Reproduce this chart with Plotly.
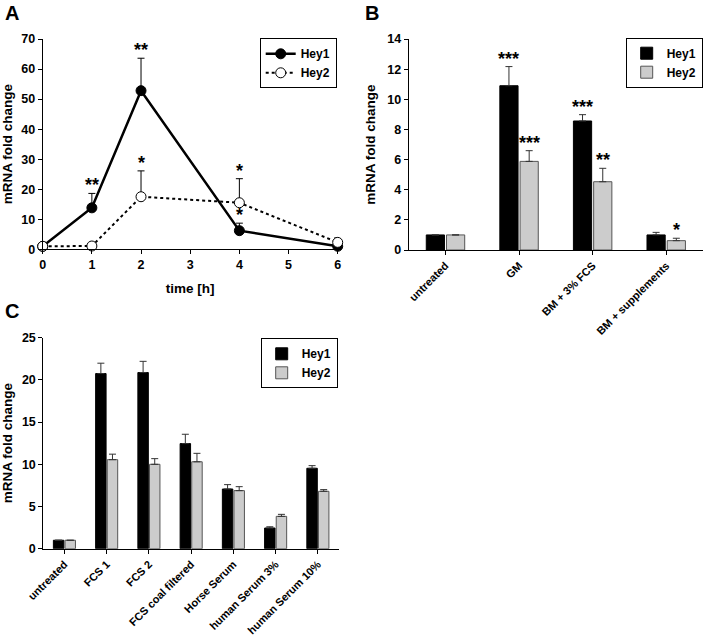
import plotly.graph_objects as go

# ---------- Data ----------
# Panel A
time_h = [0, 1, 2, 4, 6]
hey1_A = [1.0, 13.8, 52.8, 6.2, 1.0]
hey1_A_err = [0.0, 4.8, 10.8, 2.5, 0.3]
hey2_A = [1.0, 1.1, 17.5, 15.5, 2.3]
hey2_A_err = [0.0, 0.2, 8.6, 8.0, 1.5]
stars_A_hey1 = ["", "**", "**", "*", ""]
stars_A_hey2 = ["", "", "*", "*", ""]

# Panel B
cats_B = ["untreated", "GM", "BM + 3% FCS", "BM + supplements"]
hey1_B = [1.0, 10.9, 8.56, 1.0]
hey1_B_err = [0.0, 1.27, 0.42, 0.17]
hey2_B = [1.0, 5.88, 4.53, 0.62]
hey2_B_err = [0.0, 0.71, 0.89, 0.16]
stars_B_hey1 = ["", "***", "***", ""]
stars_B_hey2 = ["", "***", "**", "*"]

# Panel C
cats_C = ["untreated", "FCS 1", "FCS 2", "FCS coal filtered", "Horse Serum",
          "human Serum 3%", "human Serum 10%"]
hey1_C = [1.0, 20.75, 20.87, 12.45, 7.07, 2.45, 9.53]
hey1_C_err = [0.0, 1.23, 1.33, 1.11, 0.52, 0.15, 0.31]
hey2_C = [1.0, 10.55, 10.0, 10.3, 6.88, 3.83, 6.8]
hey2_C_err = [0.0, 0.65, 0.67, 1.0, 0.47, 0.24, 0.2]

# ---------- Style ----------
FONT = "Liberation Sans, Arial, sans-serif"
BLACK = "#000000"
GRAY = "#cccccc"
GRAY_LINE = "#555555"
W, H = 709, 635
BARGAP = 0.45
GROUPGAP = 0.1

fig = go.Figure()

# Panel A traces
fig.add_trace(go.Scatter(
    x=time_h, y=hey1_A, name="Hey1", mode="lines+markers",
    line=dict(color=BLACK, width=2.5),
    marker=dict(symbol="circle", size=10, color=BLACK, line=dict(color=BLACK, width=1)),
    error_y=dict(type="data", array=hey1_A_err, arrayminus=[0] * 5, symmetric=False,
                 color=BLACK, thickness=1, width=3.5),
    xaxis="x", yaxis="y", legend="legend", cliponaxis=False))
fig.add_trace(go.Scatter(
    x=time_h, y=hey2_A, name="Hey2", mode="lines+markers",
    line=dict(color=BLACK, width=2, dash="dot"),
    marker=dict(symbol="circle", size=10, color="white", line=dict(color=BLACK, width=1)),
    error_y=dict(type="data", array=hey2_A_err, arrayminus=[0] * 5, symmetric=False,
                 color=BLACK, thickness=1, width=3.5),
    xaxis="x", yaxis="y", legend="legend", cliponaxis=False))

# Panel B traces
fig.add_trace(go.Bar(
    x=cats_B, y=hey1_B, name="Hey1", marker=dict(color=BLACK, line=dict(color=BLACK, width=1)),
    error_y=dict(type="data", array=hey1_B_err, arrayminus=[0] * 4, symmetric=False,
                 color="#333333", thickness=1, width=3.5),
    xaxis="x2", yaxis="y2", legend="legend2"))
fig.add_trace(go.Bar(
    x=cats_B, y=hey2_B, name="Hey2", marker=dict(color=GRAY, line=dict(color=GRAY_LINE, width=1)),
    error_y=dict(type="data", array=hey2_B_err, arrayminus=[0] * 4, symmetric=False,
                 color="#333333", thickness=1, width=3.5),
    xaxis="x2", yaxis="y2", legend="legend2"))

# Panel C traces
fig.add_trace(go.Bar(
    x=cats_C, y=hey1_C, name="Hey1", marker=dict(color=BLACK, line=dict(color=BLACK, width=1)),
    error_y=dict(type="data", array=hey1_C_err, arrayminus=[0] * 7, symmetric=False,
                 color="#333333", thickness=1, width=3.5),
    xaxis="x3", yaxis="y3", legend="legend3"))
fig.add_trace(go.Bar(
    x=cats_C, y=hey2_C, name="Hey2", marker=dict(color=GRAY, line=dict(color=GRAY_LINE, width=1)),
    error_y=dict(type="data", array=hey2_C_err, arrayminus=[0] * 7, symmetric=False,
                 color="#333333", thickness=1, width=3.5),
    xaxis="x3", yaxis="y3", legend="legend3"))

tickfont = dict(family=FONT, size=12.5, color=BLACK, weight="bold")
cattickfont = dict(family=FONT, size=11, color=BLACK, weight="bold")
titlefont = dict(family=FONT, size=13.5, color=BLACK, weight="bold")

def axis_common(**kw):
    d = dict(showline=True, linecolor=BLACK, linewidth=1, mirror=False,
             ticks="outside", ticklen=4, tickwidth=1, tickcolor=BLACK,
             showgrid=False, zeroline=False, tickfont=tickfont, automargin=False)
    d.update(kw)
    return d

def px2fx(px):
    return px / W

def py2fy(py):
    return 1 - py / H

annotations = []

# star annotations
def star(xref, yref, x, y, text):
    if text:
        annotations.append(dict(x=x, y=y, xref=xref, yref=yref, text=text, showarrow=False,
                                yanchor="bottom", yshift=-4,
                                font=dict(family=FONT, size=18, color=BLACK, weight="bold")))

for t, v, e, s in zip(time_h, hey1_A, hey1_A_err, stars_A_hey1):
    star("x", "y", t, v + e, s)
for t, v, e, s in zip(time_h, hey2_A, hey2_A_err, stars_A_hey2):
    star("x", "y", t, v + e, s)

slot = (1 - BARGAP) / 2
for i, (v, e, s) in enumerate(zip(hey1_B, hey1_B_err, stars_B_hey1)):
    star("x2", "y2", i - slot / 2, v + e, s)
for i, (v, e, s) in enumerate(zip(hey2_B, hey2_B_err, stars_B_hey2)):
    star("x2", "y2", i + slot / 2, v + e, s)

# panel letters
for letter, lx, ly in [("A", 3, 0), ("B", 363, 0), ("C", 3, 298)]:
    annotations.append(dict(x=px2fx(lx), y=py2fy(ly), xref="paper", yref="paper",
                            text=letter, showarrow=False, xanchor="left", yanchor="top",
                            font=dict(family=FONT, size=20, color=BLACK, weight="bold")))

legend_common = dict(bordercolor=BLACK, borderwidth=1, bgcolor="white",
                     font=dict(family=FONT, size=12, color=BLACK, weight="bold"),
                     xanchor="right", yanchor="top", tracegroupgap=0, itemwidth=30)

fig.update_layout(
    width=W, height=H, margin=dict(l=0, r=0, t=0, b=0),
    paper_bgcolor="white", plot_bgcolor="white",
    font=dict(family=FONT, color=BLACK),
    barmode="group", bargap=BARGAP, bargroupgap=GROUPGAP,
    xaxis=axis_common(domain=[px2fx(42.7), px2fx(337.7)], range=[0, 6], dtick=1,
                      title=dict(text="time [h]", font=titlefont, standoff=12), anchor="y"),
    yaxis=axis_common(domain=[py2fy(249.3), py2fy(39)], range=[0, 70], dtick=10,
                      title=dict(text="mRNA fold change", font=titlefont, standoff=8), anchor="x"),
    xaxis2=axis_common(domain=[px2fx(408.7), px2fx(703)], tickangle=-45, anchor="y2",
                       type="category", tickfont=cattickfont),
    yaxis2=axis_common(domain=[py2fy(250), py2fy(39)], range=[0, 14], dtick=2,
                       title=dict(text="mRNA fold change", font=titlefont, standoff=8), anchor="x2"),
    xaxis3=axis_common(domain=[px2fx(43.3), px2fx(339)], tickangle=-45, anchor="y3",
                       type="category", tickfont=cattickfont),
    yaxis3=axis_common(domain=[py2fy(548.7), py2fy(337.7)], range=[0, 25], dtick=5,
                       title=dict(text="mRNA fold change", font=titlefont, standoff=8), anchor="x3"),
    legend=dict(x=px2fx(336.7), y=py2fy(38.3), **legend_common),
    legend2=dict(x=px2fx(702.7), y=py2fy(37.7), **legend_common),
    legend3=dict(x=px2fx(337.7), y=py2fy(338.3), **legend_common),
    annotations=annotations,
    showlegend=True,
)

fig.write_html("out.html", config={"displayModeBar": False},
               post_script="document.body.style.margin='0px';document.body.style.overflow='hidden';")
